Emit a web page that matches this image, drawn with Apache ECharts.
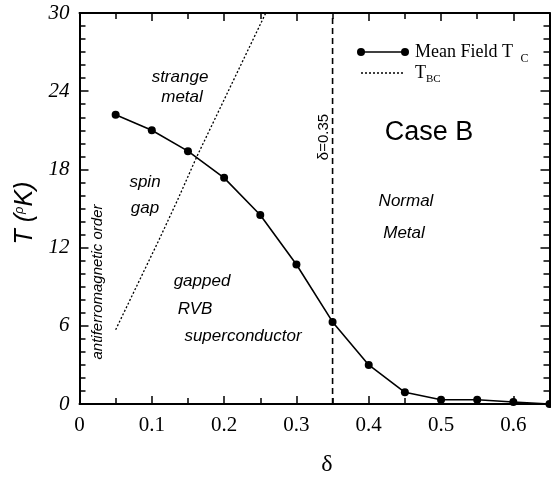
<!DOCTYPE html>
<html>
<head>
<meta charset="utf-8">
<script src="https://cdn.jsdelivr.net/npm/echarts@6/dist/echarts.min.js"></script>
<style>html,body{margin:0;padding:0;background:#fff;}#c{width:551px;height:480px;}</style>
</head>
<body>
<div id="c"></div>
<script>
// ---- data ----
const deltaValues = [0.05, 0.10, 0.15, 0.20, 0.25, 0.30, 0.35, 0.40, 0.45, 0.50, 0.55, 0.60, 0.65];
const meanFieldTc = [22.2, 21.0, 19.4, 17.35, 14.5, 10.7, 6.3, 3.0, 0.9, 0.33, 0.33, 0.15, 0.0];
const tbcDelta = [0.05, 0.11, 0.136, 0.162, 0.2576];
const tbcT = [5.7, 12.6, 15.7, 18.95, 30];
const criticalDelta = 0.35;
const tRange = [0, 30];
const xTickInterval = 0.1;
const yTickInterval = 6;

const serif = '"Liberation Serif", "Times New Roman", serif';
const sans = '"Liberation Sans", Arial, sans-serif';

const chart = echarts.init(document.getElementById('c'));

const axisLine = {show: true, onZero: false, lineStyle: {color: '#000', width: 2}};
function xAxisCfg(pos, labels) {
  return {
    type: 'value', position: pos, min: 0, max: 0.65, interval: xTickInterval,
    axisLine: axisLine,
    axisTick: {show: true, inside: true, length: 8, lineStyle: {color: '#000', width: 1.5}},
    minorTick: {show: true, splitNumber: 2, length: 6, lineStyle: {color: '#000', width: 1.5}},
    splitLine: {show: false}, minorSplitLine: {show: false},
    axisLabel: labels ? {show: true, showMaxLabel: false, color: '#000', fontFamily: serif, fontSize: 21, margin: 11,
      formatter: v => (Math.round(v * 10) / 10).toString()} : {show: false}
  };
}
function yAxisCfg(pos, labels) {
  return {
    type: 'value', position: pos, min: tRange[0], max: tRange[1], interval: yTickInterval,
    axisLine: axisLine,
    axisTick: {show: true, inside: true, length: 9, lineStyle: {color: '#000', width: 1.5}},
    minorTick: {show: true, splitNumber: 6, length: 6, lineStyle: {color: '#000', width: 1.5}},
    splitLine: {show: false}, minorSplitLine: {show: false},
    axisLabel: labels ? {show: true, color: '#000', fontFamily: serif, fontStyle: 'italic', fontSize: 21, margin: 10} : {show: false}
  };
}

const txt = (x, y, text, font, opts) => Object.assign({
  type: 'text', x: x, y: y, z: 100,
  style: Object.assign({text: text, font: font, fill: '#000', align: 'center', verticalAlign: 'middle'}, (opts && opts.style) || {})
}, opts && opts.rotation !== undefined ? {rotation: opts.rotation} : {});

chart.setOption({
  animation: false,
  backgroundColor: '#fff',
  grid: {left: 79.5, right: 1.5, top: 13, bottom: 76, containLabel: false},
  xAxis: [xAxisCfg('bottom', true), xAxisCfg('top', false)],
  yAxis: [yAxisCfg('left', true), yAxisCfg('right', false)],
  series: [
    {
      name: 'Mean Field Tc', type: 'line', xAxisIndex: 0, yAxisIndex: 0,
      data: deltaValues.map((d, i) => [d, meanFieldTc[i]]),
      symbol: 'circle', symbolSize: 8, showSymbol: true,
      itemStyle: {color: '#000'}, lineStyle: {color: '#000', width: 1.6}, z: 5
    },
    {
      name: 'TBC', type: 'line', xAxisIndex: 0, yAxisIndex: 0,
      data: tbcDelta.map((d, i) => [d, tbcT[i]]),
      showSymbol: false, symbol: 'none',
      lineStyle: {color: '#000', width: 1.3, type: [2, 2]}
    },
    {
      name: 'delta035', type: 'line', xAxisIndex: 0, yAxisIndex: 0,
      data: [[criticalDelta, tRange[0]], [criticalDelta, tRange[1]]],
      showSymbol: false, symbol: 'none',
      lineStyle: {color: '#000', width: 1.6, type: [6, 4]}
    }
  ],
  graphic: [
    // legend
    {type: 'line', shape: {x1: 361, y1: 52, x2: 405, y2: 52}, style: {stroke: '#000', lineWidth: 1.6}, z: 100},
    {type: 'circle', shape: {cx: 361, cy: 52, r: 4}, style: {fill: '#000'}, z: 100},
    {type: 'circle', shape: {cx: 405, cy: 52, r: 4}, style: {fill: '#000'}, z: 100},
    {type: 'line', shape: {x1: 361, y1: 73, x2: 405, y2: 73}, style: {stroke: '#000', lineWidth: 1.3, lineDash: [2, 2]}, z: 100},
    {type: 'text', x: 415, y: 52, z: 100, style: {text: '{a|Mean Field T }{b|C}', verticalAlign: 'middle', align: 'left',
      rich: {a: {font: '18px ' + serif, fill: '#000'}, b: {font: '12px ' + serif, fill: '#000', padding: [14, 0, 0, 3]}}}},
    {type: 'text', x: 415, y: 73, z: 100, style: {text: '{a|T}{b|BC}', verticalAlign: 'middle', align: 'left',
      rich: {a: {font: '18px ' + serif, fill: '#000'}, b: {font: '11px ' + serif, fill: '#000', padding: [12, 0, 0, 0]}}}},
    // region labels
    txt(180, 77, 'strange', 'italic 17px ' + sans),
    txt(182, 97, 'metal', 'italic 17px ' + sans),
    txt(145, 182, 'spin', 'italic 17px ' + sans),
    txt(145, 208, 'gap', 'italic 17px ' + sans),
    txt(202, 281, 'gapped', 'italic 17px ' + sans),
    txt(195, 309, 'RVB', 'italic 17px ' + sans),
    txt(243, 336, 'superconductor', 'italic 17px ' + sans),
    txt(406, 201, 'Normal', 'italic 17px ' + sans),
    txt(404, 233, 'Metal', 'italic 17px ' + sans),
    txt(429, 133, 'Case B', '27px ' + sans),
    txt(324, 137, 'δ=0.35', '15px ' + sans, {rotation: Math.PI / 2}),
    txt(98, 282, 'antiferromagnetic order', 'italic 15px ' + sans, {rotation: Math.PI / 2}),
    // axis titles
    {type: 'text', x: 25, y: 213, rotation: Math.PI / 2, z: 100, style: {text: '{a|T (}{b|ρ}{a|K)}', align: 'center', verticalAlign: 'middle',
      rich: {a: {font: 'italic 25px ' + sans, fill: '#000'}, b: {font: 'italic 13px ' + sans, fill: '#000', padding: [0, 0, 12, 0]}}}},
    txt(327, 465, 'δ', '24px ' + serif)
  ]
});
</script>
</body>
</html>
